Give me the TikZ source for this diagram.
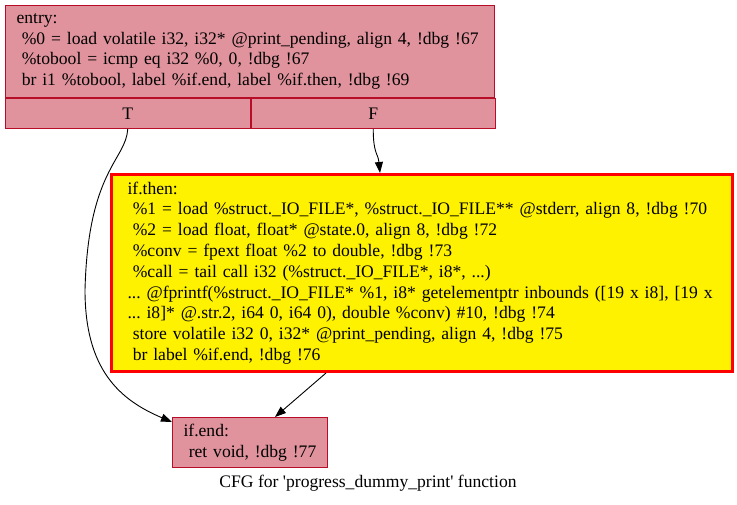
\documentclass[tikz,border=0pt]{standalone}
\usepackage{fontspec}
\newfontfamily\cfgfont{Liberation Serif}
\usetikzlibrary{arrows.meta}
\definecolor{blockfill}{RGB}{224,147,157}
\definecolor{blockline}{RGB}{183,13,40}
\newcommand{\ind}{\hspace*{0.3em}}

\begin{document}
\begin{tikzpicture}[x = 1pt, y = -1pt, font = \cfgfont\fontsize{17.6}{20.8}\selectfont\frenchspacing,
  block/.style = {draw = blockline, fill = blockfill, line width = 1pt, anchor = north west, align = left},
  cell/.style = {draw = blockline, fill = blockfill, line width = 1pt, anchor = north west,
    minimum width = 244.5pt, minimum height = 30pt, inner sep = 0pt},
  edge/.style = {line width = .9pt, -{Triangle[length = 11pt, width = 8pt]}}]
\useasboundingbox (0, 0) rectangle (737, 504);

% entry block, split in a text part and the T / F ports
\node [block, text width = 467pt, inner xsep = 11pt, minimum height = 92pt] (entry) at (5, 5)
  {entry:\\
   \ind\%0 = load volatile i32, i32* @print\_pending, align 4, !dbg !67\\
   \ind\%tobool = icmp eq i32 \%0, 0, !dbg !67\\
   \ind br i1 \%tobool, label \%if.end, label \%if.then, !dbg !69};
\node [cell] (entryT) at (entry.south west) {T};
\node [cell] (entryF) at (entryT.north east) {F};

\node [block, draw = red, fill = yellow, line width = 3pt, text width = 589pt, inner xsep = 16pt,
  minimum height = 197pt] (ifthen) at (110, 173)
  {if.then:\\
   \ind\%1 = load \%struct.\_IO\_FILE*, \%struct.\_IO\_FILE** @stderr, align 8, !dbg !70\\
   \ind\%2 = load float, float* @state.0, align 8, !dbg !72\\
   \ind\%conv = fpext float \%2 to double, !dbg !73\\
   \ind\%call = tail call i32 (\%struct.\_IO\_FILE*, i8*, ...)\\
   \mbox{... @fprintf(\%struct.\_IO\_FILE* \%1, i8* getelementptr inbounds ([19 x i8], [19 x}\\
   ... i8]* @.str.2, i64 0, i64 0), double \%conv) \#10, !dbg !74\\
   \ind store volatile i32 0, i32* @print\_pending, align 4, !dbg !75\\
   \ind br label \%if.end, !dbg !76};

\node [block, text width = 133pt, inner xsep = 11pt, minimum height = 50pt] (ifend) at (172, 417)
  {if.end:\\
   \ind\mbox{ret void, !dbg !77}};

\node (caption) at (368, 483) {CFG for 'progress\_dummy\_print' function};

% edges
\draw [edge] (entryT.south) .. controls (126, 160) and (88, 170) .. (85, 290)
  .. controls (85, 370) and (120, 400) .. ([yshift = -5pt]ifend.north west);
\draw [edge] (entryF.south) .. controls +(0, 25) and +(-2, -20) .. ([xshift = -42pt]ifthen.north);
\draw [edge] ([xshift = -96pt]ifthen.south) -- ([xshift = 25pt]ifend.north);
\end{tikzpicture}
\end{document}
